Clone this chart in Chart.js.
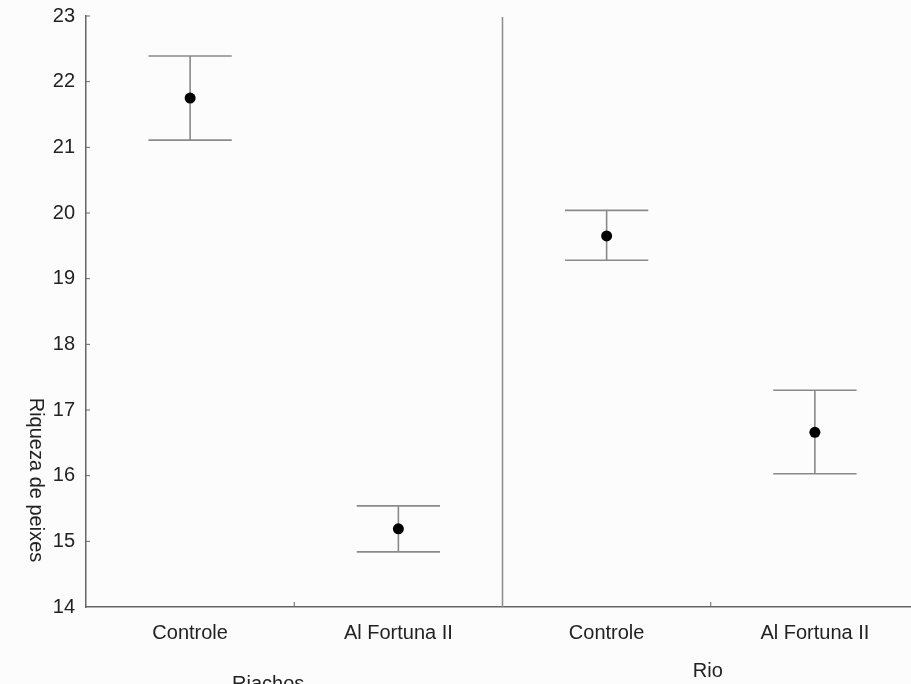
<!DOCTYPE html>
<html>
<head>
<meta charset="utf-8">
<script src="https://cdn.jsdelivr.net/npm/chart.js@4"></script>
<style>
  html, body { margin: 0; padding: 0; background: #fcfcfc; overflow: hidden; }
  /* o eixo x do original continua um pouco além da borda direita */
  #wrap { width: 919px; height: 684px; position: relative; }
</style>
</head>
<body>
<div id="wrap"><canvas id="chart"></canvas></div>
<script>
// categorias e grupos
const categories = ['Controle', 'Al Fortuna II', 'Controle', 'Al Fortuna II'];
const groups     = ['Riachos', 'Rio'];
// média e limites do intervalo
const means = [21.75, 15.19, 19.65, 16.66];
const upper = [22.39, 15.54, 20.04, 17.30];
const lower = [21.11, 14.84, 19.28, 16.03];
const yMin = 14, yMax = 23, yStep = 1;
const yTitle = 'Riqueza de peixes';

const FONT = '"Liberation Sans", Arial, sans-serif';
const AXIS = '#666';
const WHISK = '#8a8a8a';

const overlay = {
  id: 'overlay',
  beforeDraw(chart) {
    const c = chart.ctx;
    c.save();
    c.fillStyle = '#fcfcfc';
    c.fillRect(0, 0, chart.width, chart.height);
    c.restore();
  },
  beforeDatasetsDraw(chart) {
    const c = chart.ctx, x = chart.scales.x, y = chart.scales.y;
    const half = (x.getPixelForValue(1) - x.getPixelForValue(0)) * 0.2;
    c.save();
    c.strokeStyle = WHISK;
    c.lineWidth = 1.6;
    means.forEach((m, i) => {
      const px = x.getPixelForValue(i);
      const yt = y.getPixelForValue(upper[i]), yb = y.getPixelForValue(lower[i]);
      c.beginPath();
      c.moveTo(px, yt); c.lineTo(px, yb);
      c.moveTo(px - half, yt); c.lineTo(px + half, yt);
      c.moveTo(px - half, yb); c.lineTo(px + half, yb);
      c.stroke();
    });
    c.restore();
  },
  afterDraw(chart) {
    const c = chart.ctx, x = chart.scales.x, y = chart.scales.y, a = chart.chartArea;
    c.save();
    // separador entre grupos
    const sep = (x.getPixelForValue(1) + x.getPixelForValue(2)) / 2;
    c.strokeStyle = WHISK;
    c.lineWidth = 1.5;
    c.beginPath(); c.moveTo(sep, a.top + 1); c.lineTo(sep, a.bottom); c.stroke();
    // marcas internas
    c.strokeStyle = AXIS;
    c.lineWidth = 1;
    c.beginPath();
    [0, 2].forEach(i => {
      const bx = (x.getPixelForValue(i) + x.getPixelForValue(i + 1)) / 2;
      c.moveTo(bx, a.bottom); c.lineTo(bx, a.bottom - 5);
    });
    for (let v = yMin + yStep; v <= yMax; v += yStep) {
      const py = y.getPixelForValue(v);
      c.moveTo(a.left, py); c.lineTo(a.left + 4, py);
    }
    c.stroke();
    // rótulos dos grupos (Riachos fica mais baixo e mais à esquerda, como no original)
    c.fillStyle = '#222';
    c.font = '20px ' + FONT;
    c.textAlign = 'center';
    c.textBaseline = 'alphabetic';
    c.fillText(groups[0], x.getPixelForValue(0) + 78, a.bottom + 83);
    c.fillText(groups[1], (x.getPixelForValue(2) + x.getPixelForValue(3)) / 2 - 3, a.bottom + 70);
    // título do eixo y (lido de cima para baixo)
    c.textBaseline = 'middle';
    c.translate(36, 480);
    c.rotate(Math.PI / 2);
    c.fillText(yTitle, 0, 0);
    c.restore();
  }
};

new Chart(document.getElementById('chart'), {
  type: 'line',
  data: {
    labels: categories,
    datasets: [{
      data: means,
      showLine: false,
      pointRadius: 5.5,
      pointHoverRadius: 5.5,
      pointBackgroundColor: '#000',
      pointBorderColor: '#000',
      pointBorderWidth: 0,
    }]
  },
  options: {
    responsive: true,
    maintainAspectRatio: false,
    animation: false,
    layout: { autoPadding: false, padding: { top: 16, right: 0, left: 0, bottom: 0 } },
    plugins: { legend: { display: false }, tooltip: { enabled: false } },
    scales: {
      x: {
        offset: true,
        grid: { display: false, drawTicks: false },
        border: { display: true, color: AXIS, width: 1.5 },
        ticks: { color: '#222', font: { family: FONT, size: 20 }, padding: 14, maxRotation: 0 },
        afterFit: s => { s.height = 77; s.paddingLeft = 0; s.paddingRight = 0; },
      },
      y: {
        min: yMin, max: yMax,
        grid: { display: false, drawTicks: false },
        border: { display: true, color: AXIS, width: 1.5 },
        ticks: { stepSize: yStep, color: '#222', font: { family: FONT, size: 20 }, padding: 11 },
        afterFit: s => { s.width = 86; s.paddingTop = 0; s.paddingBottom = 0; },
      }
    }
  },
  plugins: [overlay]
});
</script>
</body>
</html>
